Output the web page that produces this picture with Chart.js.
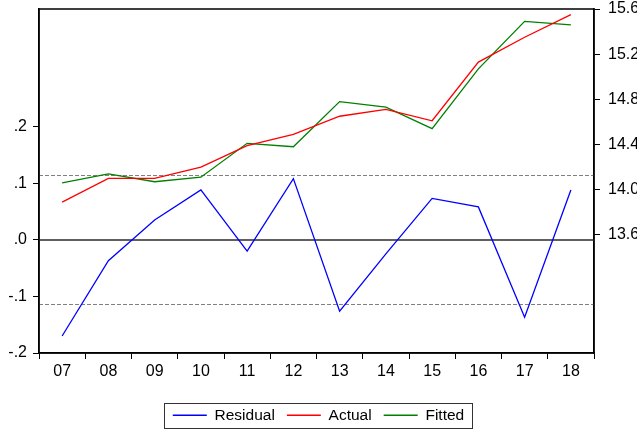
<!DOCTYPE html>
<html>
<head>
<meta charset="utf-8">
<script src="https://cdn.jsdelivr.net/npm/chart.js@4"></script>
<style>
  html, body { margin: 0; padding: 0; background: #fff; }
  #wrap { width: 637px; height: 432px; }
</style>
</head>
<body>
<div id="wrap"><canvas id="chart"></canvas></div>
<script>
// --- data ---
const years = ['07', '08', '09', '10', '11', '12', '13', '14', '15', '16', '17', '18'];
const residual = [-0.170, -0.037, 0.035, 0.088, -0.020, 0.108, -0.126, -0.025, 0.073, 0.058, -0.137, 0.088];
const actual = [13.89, 14.10, 14.10, 14.20, 14.39, 14.49, 14.65, 14.71, 14.61, 15.13, 15.35, 15.55];
const fitted = [14.06, 14.14, 14.07, 14.11, 14.41, 14.38, 14.78, 14.73, 14.54, 15.07, 15.49, 15.46];
const seBand = 0.114;

const leftTicks = [-0.2, -0.1, 0.0, 0.1, 0.2];
const leftTickLabels = ['-.2', '-.1', '.0', '.1', '.2'];
const rightTicks = [13.6, 14.0, 14.4, 14.8, 15.2, 15.6];
const rightTickLabels = ['13.6', '14.0', '14.4', '14.8', '15.2', '15.6'];

const FONT = 'Arial, "Liberation Sans", sans-serif';

// reference lines (zero and +/- S.E.) + plot frame + legend border
const refLines = {
    id: 'refLines',
    beforeDatasetsDraw(chart) {
        const { ctx, chartArea: a } = chart;
        const y = chart.scales.yL;
        ctx.save();
        ctx.strokeStyle = '#808080';
        ctx.lineWidth = 1;
        ctx.setLineDash([4, 2]);
        [seBand, -seBand].forEach(v => {
            const py = Math.round(y.getPixelForValue(v)) + 0.5;
            ctx.beginPath();
            ctx.moveTo(a.left, py);
            ctx.lineTo(a.right, py);
            ctx.stroke();
        });
        ctx.setLineDash([]);
        ctx.strokeStyle = '#606060';
        ctx.lineWidth = 2;
        const p0 = Math.round(y.getPixelForValue(0));
        ctx.beginPath();
        ctx.moveTo(a.left, p0);
        ctx.lineTo(a.right, p0);
        ctx.stroke();
        ctx.restore();
    },
    afterDraw(chart) {
        const { ctx, chartArea: a } = chart;
        ctx.save();
        ctx.strokeStyle = '#000';
        ctx.lineWidth = 1.5;
        ctx.strokeRect(a.left, a.top, a.right - a.left, a.bottom - a.top);
        // legend frame
        const hb = chart.legend.legendHitBoxes;
        if (hb && hb.length) {
            const last = hb[hb.length - 1];
            const l = hb[0].left - 9;
            const r = last.left + last.width + 8;
            const cy = hb[0].top + hb[0].height / 2;
            const t = cy - 12;
            const b = cy + 13;
            ctx.lineWidth = 1;
            ctx.strokeStyle = '#333';
            ctx.strokeRect(Math.round(l) + 0.5, Math.round(t) + 0.5, Math.round(r - l), Math.round(b - t));
        }
        ctx.restore();
    }
};

const noVPad = s => { s.paddingTop = 0; s.paddingBottom = 0; };

const ctx = document.getElementById('chart').getContext('2d');
new Chart(ctx, {
    type: 'line',
    data: {
        labels: years,
        datasets: [
            { label: 'Residual', data: residual, yAxisID: 'yL', borderColor: '#0000ff', borderWidth: 1.3, pointRadius: 0, pointStyle: 'line', tension: 0 },
            { label: 'Actual', data: actual, yAxisID: 'yR', borderColor: '#ff0000', borderWidth: 1.3, pointRadius: 0, pointStyle: 'line', tension: 0 },
            { label: 'Fitted', data: fitted, yAxisID: 'yR', borderColor: '#008000', borderWidth: 1.3, pointRadius: 0, pointStyle: 'line', tension: 0 }
        ]
    },
    options: {
        responsive: true,
        maintainAspectRatio: false,
        animation: false,
        layout: { padding: { top: 9, left: 0, right: 0, bottom: -1 } },
        plugins: {
            tooltip: { enabled: false },
            legend: {
                position: 'bottom',
                labels: {
                    usePointStyle: true,
                    pointStyleWidth: 34,
                    boxHeight: 15,
                    padding: 12,
                    color: '#000',
                    font: { family: FONT, size: 15.5 }
                }
            }
        },
        scales: {
            x: {
                type: 'category',
                offset: true,
                grid: { offset: true, drawOnChartArea: false, tickLength: 6, color: '#000', lineWidth: 1 },
                border: { display: true, color: '#000', width: 1.5 },
                ticks: { color: '#000', font: { family: FONT, size: 16 }, padding: 3, maxRotation: 0, autoSkip: false },
                afterFit: s => { s.height = 42.5; }
            },
            yL: {
                type: 'linear',
                position: 'left',
                min: -0.2,
                max: 0.4076,
                afterBuildTicks: s => { s.ticks = leftTicks.map(v => ({ value: v })); },
                grid: { drawOnChartArea: false, tickLength: 6, color: '#000' },
                border: { display: true, color: '#000', width: 1.5 },
                ticks: {
                    color: '#000', font: { family: FONT, size: 16 }, padding: 6,
                    callback: (v) => {
                        const i = leftTicks.findIndex(t => Math.abs(t - v) < 1e-9);
                        return i >= 0 ? leftTickLabels[i] : '';
                    }
                },
                afterFit: s => { s.width = 39; noVPad(s); }
            },
            yR: {
                type: 'linear',
                position: 'right',
                min: 12.553,
                max: 15.6,
                afterBuildTicks: s => { s.ticks = rightTicks.map(v => ({ value: v })); },
                grid: { drawOnChartArea: false, tickLength: 6, color: '#000' },
                border: { display: true, color: '#000', width: 1.5 },
                ticks: {
                    color: '#000', font: { family: FONT, size: 16 }, padding: 8,
                    callback: (v) => {
                        const i = rightTicks.findIndex(t => Math.abs(t - v) < 1e-9);
                        return i >= 0 ? rightTickLabels[i] : '';
                    }
                },
                afterFit: s => { s.width = 43; noVPad(s); }
            }
        }
    },
    plugins: [refLines]
});
</script>
</body>
</html>
